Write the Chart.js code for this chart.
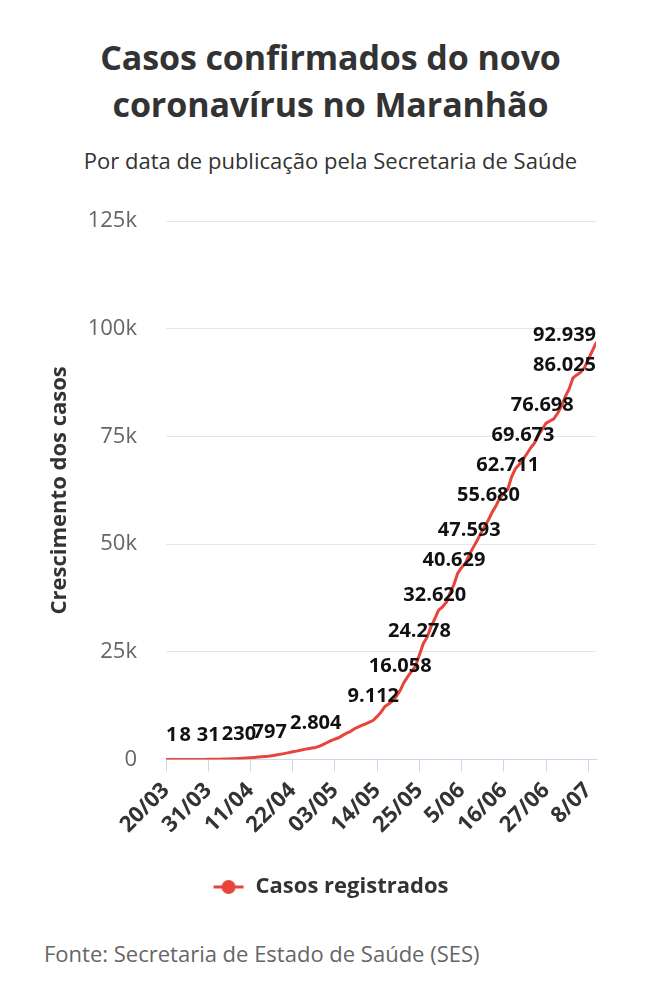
<!DOCTYPE html>
<html lang="pt-BR">
<head>
<meta charset="utf-8">
<title>Casos confirmados do novo coronavírus no Maranhão</title>
<script src="https://cdn.jsdelivr.net/npm/chart.js@4.4.1/dist/chart.umd.min.js"></script>
<style>
  html, body { margin: 0; padding: 0; background: #fff; }
  body { width: 661px; height: 1000px; position: relative; font-family: 'Open Sans', sans-serif; color: #333; }
  #titulo { position: absolute; top: 34px; left: 0; width: 661px; margin: 0; text-align: center;
            font-size: 34px; font-weight: 700; line-height: 47px; color: #333; letter-spacing: -0.1px; }
  #subtitulo { position: absolute; top: 145px; left: 0; width: 661px; text-align: center; font-size: 22px; color: #333; }
  #grafico { position: absolute; left: 0; top: 179px; width: 661px; height: 729px; }
  #fonte { position: absolute; left: 44px; top: 938px; font-size: 22px; color: #666; }
</style>
</head>
<body>
<h1 id="titulo">Casos confirmados do novo<br>coronavírus no Maranhão</h1>
<div id="subtitulo">Por data de publicação pela Secretaria de Saúde</div>
<div id="grafico"><canvas id="canvas"></canvas></div>
<div id="fonte">Fonte: Secretaria de Estado de Saúde (SES)</div>

<script>
// Casos acumulados por dia de publicação, a partir de 20/03 (índice 0) até 10/07
const casos = [
    1, 1, 2, 2, 5, 8, 8, 10, 12, 15,
    22, 31, 41, 55, 74, 99, 119, 146, 188, 230,
    280, 345, 410, 480, 560, 640, 720, 797, 950, 1100,
    1250, 1420, 1600, 1780, 1950, 2150, 2350, 2500, 2650, 2804,
    3100, 3500, 3950, 4400, 4750, 5050, 5600, 6100, 6500, 7100,
    7500, 7900, 8300, 8700, 9112, 10000, 11000, 12300, 12900, 13600,
    14700, 16058, 17900, 19300, 20500, 21700, 24278, 26900, 28400, 30800,
    32620, 34700, 35400, 36500, 38700, 40629, 43300, 44600, 45600, 47593,
    49200, 50800, 52500, 54100, 55680, 57500, 59000, 60800, 61800, 62711,
    65600, 67500, 68500, 69673, 71000, 72400, 73500, 75300, 76698, 78100,
    78600, 79100, 80400, 82000, 84300, 86025, 88600, 89300, 89900, 91000,
    92939, 94800, 96700
];

// Dias (índices) que recebem rótulo de valor
const diasComRotulo = [0, 5, 11, 19, 27, 39, 54, 61, 66, 70, 75, 79, 84, 89, 93, 98, 105, 110];

// Marcas do eixo X
const diasEixo = [0, 11, 22, 33, 44, 55, 66, 77, 88, 99, 110];
const rotulosEixo = ['20/03', '31/03', '11/04', '22/04', '03/05', '14/05', '25/05', '5/06', '16/06', '27/06', '8/07'];

const ticksY = [0, 25000, 50000, 75000, 100000, 125000];

const VERMELHO = '#e8443c';

// Formata número no padrão brasileiro (92.939)
const formatar = (v) => String(v).replace(/\B(?=(\d{3})+(?!\d))/g, '.');

// Marcador da legenda: linha com bolinha
const marcador = document.createElement('canvas');
marcador.width = 32;
marcador.height = 16;
(() => {
    const c = marcador.getContext('2d');
    c.strokeStyle = VERMELHO;
    c.lineWidth = 3;
    c.beginPath();
    c.moveTo(1, 8);
    c.lineTo(31, 8);
    c.stroke();
    c.fillStyle = VERMELHO;
    c.beginPath();
    c.arc(16, 8, 7, 0, Math.PI * 2);
    c.fill();
})();

// Plugin simples para escrever os valores acima dos pontos
const rotulosValores = {
    id: 'rotulosValores',
    afterDatasetsDraw(chart) {
        const {ctx, chartArea} = chart;
        const meta = chart.getDatasetMeta(0);
        ctx.save();
        ctx.font = 'bold 20px "Open Sans", sans-serif';
        ctx.fillStyle = '#111';
        ctx.textAlign = 'center';
        ctx.textBaseline = 'middle';
        diasComRotulo.forEach(i => {
            const pt = meta.data[i];
            const texto = formatar(casos[i]);
            const w = ctx.measureText(texto).width;
            let x = pt.x;
            x = Math.max(x, chartArea.left + w / 2);
            x = Math.min(x, chartArea.right - w / 2);
            ctx.fillText(texto, x, pt.y - 24);
        });
        ctx.restore();
    }
};

// Centraliza a legenda na largura total da figura
const legendaCentral = {
    id: 'legendaCentral',
    afterLayout(chart) {
        if (chart.legend) {
            chart.legend.left = 0;
            chart.legend.right = chart.width;
        }
    }
};

const ctx = document.getElementById('canvas').getContext('2d');

new Chart(ctx, {
    type: 'line',
    data: {
        datasets: [{
            label: 'Casos registrados',
            data: casos.map((y, x) => ({x, y})),
            borderColor: VERMELHO,
            backgroundColor: VERMELHO,
            borderWidth: 3,
            borderCapStyle: 'round',
            borderJoinStyle: 'round',
            pointRadius: 0,
            tension: 0
        }]
    },
    options: {
        responsive: true,
        maintainAspectRatio: false,
        animation: false,
        layout: {
            padding: {left: 40, right: 65, top: 0, bottom: 0}
        },
        scales: {
            x: {
                type: 'linear',
                min: 0,
                max: casos.length - 1,
                afterBuildTicks: (s) => { s.ticks = diasEixo.map(v => ({value: v})); },
                afterFit: (s) => { s.height = 106.5; },
                ticks: {
                    autoSkip: false,
                    minRotation: 45,
                    maxRotation: 45,
                    padding: 6,
                    color: '#333',
                    font: {family: '"Open Sans", sans-serif', size: 22, weight: 'bold'},
                    callback: (v) => rotulosEixo[diasEixo.indexOf(v)]
                },
                grid: {
                    drawOnChartArea: false,
                    drawTicks: true,
                    tickLength: 12,
                    color: '#ccd6eb'
                },
                border: {display: true, color: '#ccd6eb', width: 1}
            },
            y: {
                min: 0,
                max: 125000,
                afterBuildTicks: (s) => { s.ticks = ticksY.map(v => ({value: v})); },
                afterFit: (s) => { s.width = 126; },
                ticks: {
                    padding: 29,
                    color: '#666',
                    font: {family: '"Open Sans", sans-serif', size: 22},
                    callback: (v) => v === 0 ? '0' : (v / 1000) + 'k'
                },
                grid: {
                    drawTicks: false,
                    color: (c) => c.tick && c.tick.value === 0 ? 'rgba(0,0,0,0)' : '#e6e6e6'
                },
                border: {display: false},
                title: {
                    display: true,
                    text: 'Crescimento dos casos',
                    color: '#333',
                    padding: {top: 7, bottom: 0},
                    font: {family: '"Open Sans", sans-serif', size: 22, weight: 'bold'}
                }
            }
        },
        plugins: {
            legend: {
                position: 'bottom',
                labels: {
                    usePointStyle: true,
                    pointStyle: marcador,
                    pointStyleWidth: 32,
                    color: '#333',
                    padding: 10,
                    font: {family: '"Open Sans", sans-serif', size: 22, weight: 'bold'}
                }
            },
            tooltip: {enabled: false}
        }
    },
    plugins: [rotulosValores, legendaCentral]
});
</script>
</body>
</html>
